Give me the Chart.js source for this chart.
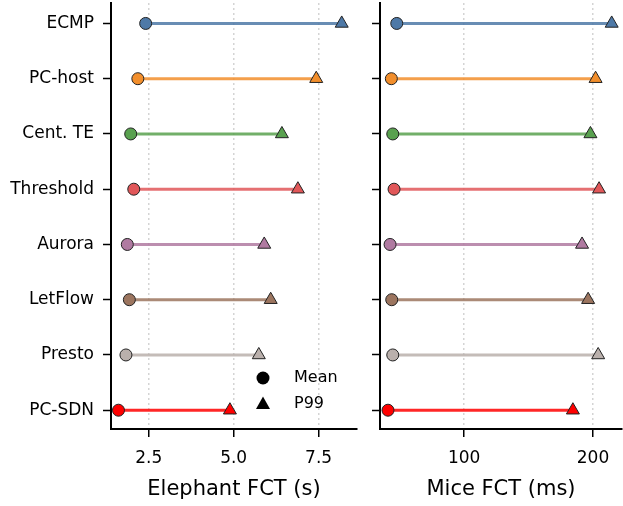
<!DOCTYPE html>
<html>
<head>
<meta charset="utf-8">
<script src="https://cdn.jsdelivr.net/npm/chart.js@4.4.1/dist/chart.umd.min.js"></script>
<style>
  html, body { margin: 0; padding: 0; background: #fff; }
  #wrap { position: relative; width: 623px; height: 506px; }
  .panel { position: absolute; top: 0; height: 506px; }
</style>
</head>
<body>
<div id="wrap">
  <div class="panel" style="left:0;width:360px"><canvas id="elephant-chart"></canvas></div>
  <div class="panel" style="left:360px;width:263px"><canvas id="mice-chart"></canvas></div>
</div>
<script>
// data
const methods = ["ECMP", "PC-host", "Cent. TE", "Threshold", "Aurora", "LetFlow", "Presto", "PC-SDN"];
const methodColors = ["#4e79a7", "#f28e2b", "#59a14f", "#e15759", "#b07aa1", "#9c755f", "#bab0ac", "#ff0000"];

const elephantMean = [2.41, 2.18, 1.97, 2.06, 1.87, 1.93, 1.83, 1.61];
const elephantP99 = [8.18, 7.43, 6.42, 6.89, 5.90, 6.09, 5.74, 4.89];
const elephantTicks = [2.5, 5.0, 7.5];

const miceMean = [47.7, 43.5, 44.6, 45.6, 42.5, 43.8, 44.6, 40.9];
const miceP99 = [214.5, 202.0, 198.0, 204.7, 191.5, 196.2, 204.0, 184.4];
const miceTicks = [100, 200];

Chart.defaults.font.family = "'DejaVu Sans', sans-serif";
Chart.defaults.color = "#000";

function alpha(hex, a) {
  const n = parseInt(hex.slice(1), 16);
  return `rgba(${(n >> 16) & 255}, ${(n >> 8) & 255}, ${n & 255}, ${a})`;
}

function makeDatasets(mean, p99) {
  return methods.map((m, i) => ({
    label: m,
    data: [{ x: mean[i], y: i }, { x: p99[i], y: i }],
    showLine: true,
    borderColor: alpha(methodColors[i], 0.85),
    borderWidth: 3,
    pointStyle: ["circle", "triangle"],
    pointRadius: [6, 7.5],
    pointBackgroundColor: methodColors[i],
    pointBorderColor: "#222",
    pointBorderWidth: 1,
    pointHoverRadius: [6, 7.5],
    clip: false,
  }));
}

// Mean / P99 marker key in the lower right of the left panel
const markerLegend = {
  id: "markerLegend",
  afterDraw(chart) {
    const { ctx, chartArea } = chart;
    const mx = chartArea.right - 94;
    const rows = [
      { y: chartArea.bottom - 51, text: "Mean", shape: "circle" },
      { y: chartArea.bottom - 25, text: "P99", shape: "triangle" },
    ];
    ctx.save();
    ctx.fillStyle = "#000";
    ctx.font = "16px 'DejaVu Sans'";
    ctx.textBaseline = "middle";
    rows.forEach((r) => {
      ctx.beginPath();
      if (r.shape === "circle") {
        ctx.arc(mx, r.y, 6.5, 0, Math.PI * 2);
      } else {
        ctx.moveTo(mx, r.y - 7.5);
        ctx.lineTo(mx + 7, r.y + 5);
        ctx.lineTo(mx - 7, r.y + 5);
        ctx.closePath();
      }
      ctx.fill();
      ctx.fillText(r.text, mx + 31, r.y);
    });
    ctx.restore();
  },
};

function buildConfig(mean, p99, xTicks, xMin, xMax, title, opts) {
  return {
    type: "scatter",
    data: { datasets: makeDatasets(mean, p99) },
    options: {
      responsive: true,
      maintainAspectRatio: false,
      animation: false,
      events: [],
      layout: { autoPadding: false, padding: { top: 3, right: opts.padRight, left: 0, bottom: 0 } },
      plugins: { legend: { display: false }, tooltip: { enabled: false } },
      scales: {
        x: {
          type: "linear",
          min: xMin,
          max: xMax,
          afterBuildTicks: (axis) => { axis.ticks = xTicks.map((v) => ({ value: v })); },
          afterFit: (axis) => { axis.height = 77; axis.paddingLeft = 0; axis.paddingRight = 0; },
          ticks: {
            font: { size: 17 },
            padding: 11,
            maxRotation: 0,
            callback: (v) => opts.fmt(v),
          },
          grid: {
            color: "#d4d4d4",
            lineWidth: 1.5,
            tickColor: "#000",
            tickWidth: 1.5,
            tickLength: 8,
          },
          border: { display: true, color: "#000", width: 2, dash: [2, 3] },
          title: { display: true, text: title, font: { size: 21 }, padding: { top: 4, bottom: 4 } },
        },
        y: {
          type: "linear",
          reverse: true,
          min: -0.37,
          max: 7.34,
          afterBuildTicks: (axis) => { axis.ticks = methods.map((m, i) => ({ value: i })); },
          afterFit: (axis) => { axis.width = opts.yWidth; axis.paddingTop = 0; axis.paddingBottom = 0; },
          ticks: {
            font: { size: 17 },
            padding: 9,
            callback: (v) => (opts.showLabels ? methods[v] : ""),
          },
          grid: {
            drawOnChartArea: false,
            tickColor: "#000",
            tickWidth: 1.5,
            tickLength: 8,
          },
          border: { display: true, color: "#000", width: 2 },
        },
      },
    },
    plugins: opts.legend ? [markerLegend] : [],
  };
}

const elephantChart = new Chart(
  document.getElementById("elephant-chart"),
  buildConfig(elephantMean, elephantP99, elephantTicks, 1.39, 8.63, "Elephant FCT (s)", {
    showLabels: true, yWidth: 111, padRight: 3, legend: true, fmt: (v) => v.toFixed(1),
  })
);

const miceChart = new Chart(
  document.getElementById("mice-chart"),
  buildConfig(miceMean, miceP99, miceTicks, 34.7, 222.5, "Mice FCT (ms)", {
    showLabels: false, yWidth: 20, padRight: 1, legend: false, fmt: (v) => String(v),
  })
);
</script>
</body>
</html>
